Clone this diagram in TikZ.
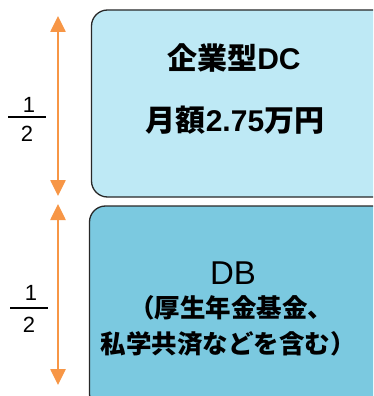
\documentclass[tikz,border=0pt]{standalone}
\usepackage{fontspec}
\setmainfont{Liberation Sans}
\newfontfamily\jp{Noto Sans CJK JP}
\usetikzlibrary{arrows.meta}
\definecolor{topfill}{RGB}{190,233,245}
\definecolor{botfill}{RGB}{123,201,224}
\definecolor{orng}{RGB}{247,150,70}
\definecolor{edge}{RGB}{40,40,40}
\tikzset{
  panel/.style={draw=edge, line width=1.3pt, rounded corners=16pt, inner sep=0pt},
  span/.style={orng, line width=2.6pt, {Triangle[width=15pt,length=16pt]}-{Triangle[width=15pt,length=16pt]}},
  numtxt/.style={font=\fontsize{22pt}{24pt}\selectfont, inner sep=0pt},
  fracbar/.style={line width=1.2pt, black},
  boxtxt/.style={font=\bfseries\fontsize{30pt}{32pt}\selectfont, inner sep=0pt}
}
\begin{document}
\begin{tikzpicture}[x=1pt,y=-1pt]
\useasboundingbox (0,0) rectangle (373,396);
\clip (0,0) rectangle (373,396);
% boxes
\node[panel, fill=topfill, minimum width=298.5pt, minimum height=187pt] (dc) at (240.75,103.5) {};
\node[panel, fill=botfill, minimum width=300.5pt, minimum height=204pt] (db) at (239.75,308) {};
% texts top
\node[boxtxt] (t1) at (234,58.5) {\jp\bfseries 企業型\normalfont\bfseries DC};
\node[boxtxt] (t2) at (235,120) {\jp\bfseries 月額\normalfont\bfseries 2.75\jp\bfseries 万円};
% texts bottom
\node[inner sep=0pt, font=\fontsize{33pt}{35pt}\selectfont] (t3) at (233,273) {DB};
\node[inner sep=0pt, font=\jp\bfseries\fontsize{25.5pt}{27pt}\selectfont] (t4) at (231,308) {（厚生年金基金、};
\node[inner sep=0pt, font=\jp\bfseries\fontsize{25.5pt}{27pt}\selectfont] (t5) at (228,344) {私学共済などを含む）};
% arrows
\coordinate (a1t) at (58,16);
\coordinate (a1b) at (58,196);
\coordinate (a2t) at (58,204);
\coordinate (a2b) at (58,385);
\draw[span] (a1t) -- (a1b);
\draw[span] (a2t) -- (a2b);
% fractions
\node[numtxt] (n1) at (29,105) {1};
\node[numtxt] (d1) at (27,134) {2};
\coordinate (b1l) at (8,117);
\coordinate (b1r) at (46,117);
\draw[fracbar] (b1l) -- (b1r);
\node[numtxt] (n2) at (31,293) {1};
\node[numtxt] (d2) at (29,325) {2};
\coordinate (b2l) at (10,308);
\coordinate (b2r) at (48,308);
\draw[fracbar] (b2l) -- (b2r);
\end{tikzpicture}
\end{document}
